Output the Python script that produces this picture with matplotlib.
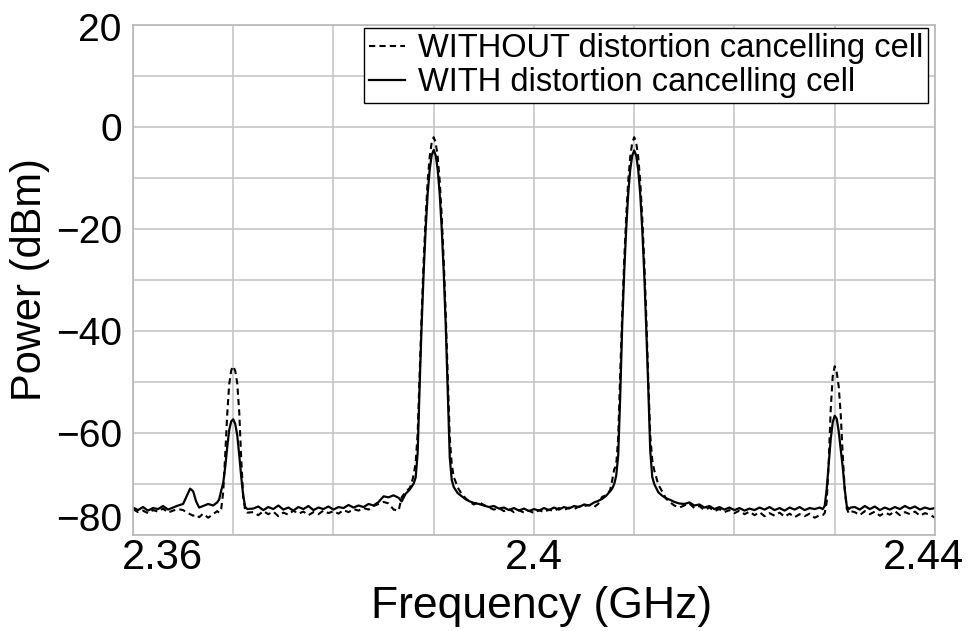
import numpy as np
import matplotlib
matplotlib.use('Agg')
import matplotlib.pyplot as plt
from matplotlib.ticker import MultipleLocator
from matplotlib.transforms import ScaledTranslation

plt.rcParams['font.family'] = ['Liberation Sans', 'DejaVu Sans']

# frequency samples (GHz)
freq_ghz = [
    # floor + small spur
    2.3600, 2.3605, 2.3610, 2.3615, 2.3620, 2.3625, 2.3630, 2.3635, 2.3640, 2.3645,
    2.3650, 2.3654, 2.3657, 2.3660, 2.3663, 2.3666, 2.3670, 2.3675, 2.3680, 2.3684,
    # IM3 at 2.37
    2.3686, 2.3688, 2.3690, 2.3692, 2.3694, 2.3696, 2.3698, 2.3700, 2.3702, 2.3704,
    2.3706, 2.3708, 2.3710, 2.3712, 2.3714,
    # floor
    2.3720, 2.3725, 2.3730, 2.3735, 2.3740, 2.3745, 2.3750, 2.3755, 2.3760, 2.3765,
    2.3770, 2.3775, 2.3780, 2.3785, 2.3790, 2.3795, 2.3800, 2.3805, 2.3810, 2.3815,
    2.3820, 2.3825, 2.3830, 2.3835, 2.3840, 2.3845, 2.3850, 2.3855, 2.3860, 2.3865,
    # tone at 2.39
    2.3868, 2.3872, 2.3876, 2.3878, 2.3880, 2.3882, 2.3884, 2.3886, 2.3888, 2.3890,
    2.3892, 2.3894, 2.3896, 2.3898, 2.3900, 2.3902, 2.3904, 2.3906, 2.3908, 2.3910,
    2.3912, 2.3914, 2.3916, 2.3918, 2.3920, 2.3924, 2.3928, 2.3932, 2.3936, 2.3940,
    # floor
    2.3945, 2.3950, 2.3955, 2.3960, 2.3965, 2.3970, 2.3975, 2.3980, 2.3985, 2.3990,
    2.3995, 2.4000, 2.4005, 2.4010, 2.4015, 2.4020, 2.4025, 2.4030, 2.4035, 2.4040,
    2.4045, 2.4050, 2.4055,
    # tone at 2.41
    2.4060, 2.4064, 2.4068, 2.4072, 2.4076, 2.4078, 2.4080, 2.4082, 2.4084, 2.4086,
    2.4088, 2.4090, 2.4092, 2.4094, 2.4096, 2.4098, 2.4100, 2.4102, 2.4104, 2.4106,
    2.4108, 2.4110, 2.4112, 2.4114, 2.4116, 2.4118, 2.4120, 2.4124, 2.4128, 2.4132,
    2.4136, 2.4140, 2.4145,
    # floor
    2.4150, 2.4155, 2.4160, 2.4165, 2.4170, 2.4175, 2.4180, 2.4185, 2.4190, 2.4195,
    2.4200, 2.4205, 2.4210, 2.4215, 2.4220, 2.4225, 2.4230, 2.4235, 2.4240, 2.4245,
    2.4250, 2.4255, 2.4260, 2.4265, 2.4270, 2.4275, 2.4280, 2.4285,
    # IM3 at 2.43
    2.4288, 2.4290, 2.4292, 2.4294, 2.4296, 2.4298, 2.4300, 2.4302, 2.4304, 2.4306,
    2.4308, 2.4310, 2.4312, 2.4314, 2.4316,
    # floor
    2.4320, 2.4325, 2.4330, 2.4335, 2.4340, 2.4345, 2.4350, 2.4355, 2.4360, 2.4365,
    2.4370, 2.4375, 2.4380, 2.4385, 2.4390, 2.4395, 2.4400,
]

# WITHOUT distortion cancelling cell (dashed), dBm
power_without = [
    -74.9, -75.5, -75.2, -75.7, -75.1, -75.4, -74.8, -75.6, -75.2, -74.9,
    -75.1, -75.6, -75.9, -76.2, -76.0, -76.5, -75.8, -76.6, -75.9, -75.3,
    -75.6, -74.9, -71.6, -64.3, -56.4, -50.4, -47.7, -46.9, -47.8, -50.2,
    -55.9, -65.2, -72.5, -75.3, -75.6,
    -75.5, -76.1, -75.3, -75.9, -75.4, -76.3, -75.6, -76.0, -75.2, -75.8,
    -75.4, -76.1, -75.5, -75.9, -75.2, -75.7, -75.3, -75.8, -75.1, -75.5,
    -74.9, -75.2, -74.7, -75.0, -74.3, -73.9, -73.5, -73.8, -75.0, -75.2,
    -72.6, -71.5, -70.8, -69.8, -68.2, -65.8, -60.0, -48.0, -36.5, -26.0,
    -17.5, -10.5, -5.8, -3.0, -2.0, -3.1, -5.9, -10.6, -17.6, -26.2,
    -36.8, -49.0, -60.8, -66.2, -68.6, -70.7, -72.0, -72.8, -73.5, -74.0,
    -73.5, -74.1, -74.6, -75.0, -74.7, -75.3, -74.9, -75.5, -75.1, -75.6,
    -75.2, -75.7, -75.1, -75.5, -75.0, -75.3, -74.7, -75.1, -74.6, -74.9,
    -74.4, -74.3, -74.1,
    -74.5, -73.9, -72.5, -72.2, -71.2, -69.3, -67.1, -66.4, -61.0, -48.5,
    -36.8, -26.2, -17.6, -10.6, -5.9, -3.1, -2.0, -3.1, -5.9, -10.7,
    -17.7, -26.3, -37.0, -49.5, -60.5, -65.3, -67.3, -70.1, -71.5, -72.9,
    -73.6, -74.2, -74.6,
    -74.2, -73.8, -74.7, -74.3, -75.1, -74.6, -75.3, -74.9, -75.5, -75.1,
    -75.7, -75.2, -75.9, -75.4, -76.1, -75.5, -76.3, -75.7, -76.2, -75.6,
    -76.4, -75.8, -76.5, -75.9, -76.3, -75.8, -76.6, -76.1,
    -76.1, -75.7, -73.5, -65.8, -55.4, -48.9, -46.9, -48.1, -50.9, -56.4,
    -64.3, -71.0, -74.8, -75.7, -75.3,
    -75.5, -76.1, -75.3, -75.9, -75.4, -76.2, -75.6, -76.0, -75.3, -76.1,
    -75.5, -75.9, -75.4, -76.2, -75.7, -76.0, -76.6,
]

# WITH distortion cancelling cell (solid), dBm
power_with = [
    -74.6, -75.1, -74.5, -75.2, -74.7, -74.9, -74.3, -75.0, -74.6, -74.2,
    -73.9, -72.2, -70.9, -71.4, -73.4, -74.6, -74.3, -73.9, -74.2, -73.6,
    -73.0, -71.3, -69.8, -66.7, -62.8, -59.4, -57.7, -57.3, -58.2, -60.4,
    -64.3, -68.6, -72.3, -74.5, -74.9,
    -74.8, -74.4, -75.1, -74.5, -74.9, -74.2, -75.0, -74.6, -75.2, -74.5,
    -74.9, -74.3, -75.1, -74.6, -74.9, -74.4, -75.0, -74.5, -74.7, -74.1,
    -74.6, -74.2, -74.5, -73.9, -74.2, -73.5, -72.4, -72.6, -72.2, -72.7,
    -73.4, -71.9, -71.1, -70.5, -69.9, -68.7, -63.8, -50.5, -38.5, -28.3,
    -19.8, -13.0, -8.3, -5.5, -4.5, -5.6, -8.4, -13.2, -20.0, -28.6,
    -39.0, -52.0, -64.8, -69.2, -70.6, -71.8, -72.4, -73.0, -73.4, -73.7,
    -73.9, -74.2, -74.5, -74.3, -74.8, -74.6, -75.1, -74.7, -75.2, -74.8,
    -75.3, -74.9, -75.2, -74.7, -75.1, -74.6, -75.0, -74.5, -74.8, -74.3,
    -74.5, -74.0, -74.2,
    -73.6, -73.3, -72.9, -72.3, -71.4, -70.9, -70.0, -68.4, -64.5, -53.0,
    -39.0, -28.5, -20.0, -13.1, -8.4, -5.6, -4.6, -5.6, -8.4, -13.2,
    -20.0, -28.7, -39.5, -51.0, -63.5, -68.6, -70.0, -71.6, -72.3, -72.8,
    -73.1, -73.5, -73.8,
    -73.9, -73.6, -74.2, -74.0, -74.6, -74.3, -74.9, -74.5, -75.0, -74.6,
    -75.1, -74.7, -75.2, -74.8, -75.1, -74.6, -75.0, -74.5, -75.1, -74.7,
    -75.2, -74.6, -75.0, -74.5, -75.1, -74.7, -74.9, -74.6,
    -74.9, -74.3, -71.0, -66.1, -61.2, -57.9, -56.6, -57.2, -59.7, -63.3,
    -66.7, -71.0, -74.3, -74.9, -74.6,
    -74.5, -75.0, -74.3, -74.9, -74.4, -75.1, -74.6, -75.0, -74.5, -74.9,
    -74.3, -74.8, -74.4, -75.0, -74.6, -74.9, -74.7,
]

x_ticks = [2.36, 2.40, 2.44]
x_tick_labels = ['2.36', '2.4', '2.44']
y_ticks = [-80, -60, -40, -20, 0, 20]

assert len(freq_ghz) == len(power_without) == len(power_with)

fig = plt.figure(figsize=(9.72, 6.31), dpi=100)
ax = fig.add_axes([0.1368, 0.152, 0.8251, 0.8084])

ax.plot(freq_ghz, power_without, color='black', lw=1.5, ls=(0, (3, 2)),
        label='WITHOUT distortion cancelling cell')
ax.plot(freq_ghz, power_with, color='black', lw=1.6,
        label='WITH distortion cancelling cell')

ax.set_xlim(2.36, 2.44)
ax.set_ylim(-80, 20)
ax.set_xticks(x_ticks)
ax.set_xticklabels(x_tick_labels)
ax.set_yticks(y_ticks)
ax.xaxis.set_minor_locator(MultipleLocator(0.01))
ax.yaxis.set_minor_locator(MultipleLocator(10))
ax.grid(which='both', color='#c6c6c6', lw=1.2)
ax.set_axisbelow(True)
ax.tick_params(which='both', length=0)
ax.tick_params(axis='x', labelsize=30, pad=2)
ax.tick_params(axis='y', labelsize=28, pad=8)
for s in ax.spines.values():
    s.set_color('#b8b8b8')
    s.set_linewidth(1.2)

# edge labels sit inside the frame in the original
for lab, dx in zip(ax.get_xticklabels(), [29, 0, -11]):
    lab.set_transform(lab.get_transform() + ScaledTranslation(dx / 100, 0, fig.dpi_scale_trans))
for lab, dy in zip(ax.get_yticklabels(), [18, 0, 0, 0, 0, -2]):
    lab.set_transform(lab.get_transform() + ScaledTranslation(0, dy / 100, fig.dpi_scale_trans))

ax.set_xlabel('Frequency (GHz)', fontsize=32, labelpad=6)
ax.xaxis.label.set_x(0.51)
ax.set_ylabel('Power (dBm)', fontsize=30, labelpad=4)

leg = ax.legend(loc='upper right', bbox_to_anchor=(0.9913, 0.994), fontsize=23.5,
                fancybox=False, edgecolor='black', framealpha=1, borderpad=0.15,
                labelspacing=0.1, handlelength=1.1, handletextpad=0.4, borderaxespad=0)
leg.get_frame().set_linewidth(1.0)

fig.savefig('out.png', dpi=100)
